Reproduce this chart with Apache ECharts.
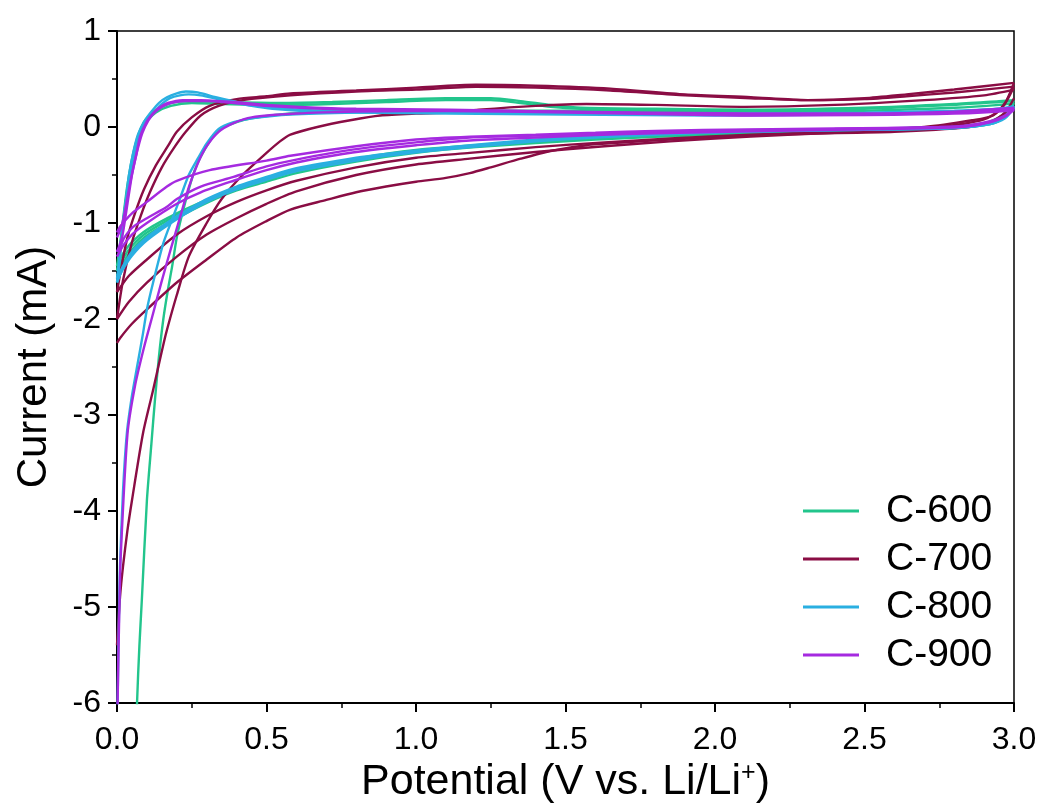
<!DOCTYPE html>
<html><head><meta charset="utf-8">
<script src="https://cdn.jsdelivr.net/npm/echarts@6/dist/echarts.min.js"></script>
<style>html,body{margin:0;padding:0;background:#fff}#chart{width:1045px;height:809px}</style>
</head><body><div id="chart"></div>
<script>
// ---- data (potential V, current mA) ----
const legendNames = ['C-600','C-700','C-800','C-900'];

const c600_anodic1 = [[0.06,-7],[0.067,-6],[0.075,-5.4],[0.083,-4.93],[0.1,-3.89],[0.115,-3.3],[0.127,-2.84],[0.14,-2.4],[0.155,-2.0],[0.17,-1.7],[0.184,-1.46],[0.2,-1.15],[0.217,-0.92],[0.24,-0.65],[0.26,-0.45],[0.28,-0.31],[0.31,-0.15],[0.34,-0.03],[0.4,0.05],[0.45,0.09],[0.58,0.14],[0.8,0.16],[1.1,0.17],[1.5,0.17],[2.0,0.16],[2.5,0.17],[2.8,0.2],[2.95,0.23],[3.0,0.25]];
const c600_anodic2 = [[0,-1.45],[0.015,-1.1],[0.035,-0.6],[0.06,-0.2],[0.09,0.05],[0.13,0.18],[0.18,0.25],[0.25,0.27],[0.35,0.26],[0.545,0.25],[0.72,0.26],[0.9,0.28],[1.1,0.3],[1.25,0.3],[1.35,0.27],[1.45,0.23],[1.55,0.2],[1.8,0.19],[2.12,0.18],[2.5,0.2],[2.8,0.24],[2.95,0.27],[3.0,0.28]];
const c600_anodic3 = [[0,-1.5],[0.015,-1.15],[0.035,-0.65],[0.06,-0.25],[0.09,0.02],[0.13,0.15],[0.18,0.22],[0.25,0.25],[0.35,0.24],[0.545,0.23],[0.72,0.24],[0.9,0.26],[1.1,0.28],[1.25,0.28],[1.35,0.25],[1.45,0.21],[1.55,0.19],[1.8,0.18],[2.12,0.17],[2.5,0.19],[2.8,0.23],[2.95,0.26],[3.0,0.27]];
const c600_cathodic1 = [[3.0,0.25],[2.97,0.1],[2.92,0.03],[2.8,-0.01],[2.5,-0.04],[2.0,-0.08],[1.6,-0.13],[1.2,-0.21],[1.0,-0.27],[0.8,-0.36],[0.6,-0.48],[0.5,-0.57],[0.4,-0.66],[0.3,-0.79],[0.2,-0.95],[0.1,-1.13],[0.05,-1.28],[0.02,-1.42],[0,-1.55]];
const c600_cathodic2 = [[3.0,0.28],[2.96,0.12],[2.9,0.04],[2.75,0.0],[2.4,-0.03],[2.0,-0.06],[1.6,-0.11],[1.2,-0.19],[1.0,-0.24],[0.8,-0.33],[0.6,-0.45],[0.5,-0.54],[0.4,-0.63],[0.3,-0.76],[0.2,-0.9],[0.1,-1.07],[0.05,-1.2],[0.02,-1.32],[0,-1.45]];
const c600_cathodic3 = [[3.0,0.27],[2.96,0.11],[2.9,0.03],[2.75,-0.01],[2.4,-0.04],[2.0,-0.07],[1.6,-0.12],[1.2,-0.2],[1.0,-0.25],[0.8,-0.34],[0.6,-0.46],[0.5,-0.55],[0.4,-0.645],[0.3,-0.77],[0.2,-0.92],[0.1,-1.1],[0.05,-1.24],[0.02,-1.37],[0,-1.5]];

const c700_anodic1 = [[0,-5.4],[0.01,-4.9],[0.02,-4.58],[0.035,-4.2],[0.05,-3.89],[0.087,-3.19],[0.12,-2.75],[0.138,-2.5],[0.16,-2.2],[0.177,-2.0],[0.2,-1.75],[0.24,-1.35],[0.3,-1.0],[0.35,-0.75],[0.42,-0.5],[0.5,-0.27],[0.545,-0.15],[0.58,-0.08],[0.67,0.0],[0.78,0.07],[0.88,0.12],[1.0,0.14],[1.11,0.15],[1.21,0.18],[1.4,0.22],[1.57,0.24],[1.8,0.23],[2.1,0.21],[2.4,0.23],[2.7,0.28],[2.9,0.33],[3.0,0.39]];
const c700_anodic2 = [[0,-1.72],[0.015,-1.45],[0.035,-1.15],[0.06,-0.9],[0.09,-0.65],[0.13,-0.4],[0.17,-0.2],[0.2,-0.05],[0.25,0.1],[0.31,0.22],[0.4,0.29],[0.5,0.32],[0.58,0.35],[0.8,0.38],[1.0,0.41],[1.2,0.44],[1.4,0.43],[1.65,0.4],[1.9,0.34],[2.12,0.31],[2.31,0.28],[2.5,0.3],[2.64,0.34],[2.8,0.39],[3.0,0.46]];
const c700_anodic3 = [[0,-2.0],[0.02,-1.6],[0.05,-1.2],[0.08,-0.92],[0.11,-0.68],[0.15,-0.42],[0.19,-0.22],[0.23,-0.05],[0.28,0.12],[0.34,0.22],[0.42,0.28],[0.58,0.33],[0.8,0.37],[1.0,0.39],[1.2,0.42],[1.4,0.41],[1.65,0.38],[1.9,0.33],[2.12,0.3],[2.31,0.28],[2.5,0.29],[2.64,0.32],[2.8,0.36],[3.0,0.42]];
const c700_cathodic1 = [[3.0,0.3],[2.97,0.15],[2.92,0.05],[2.85,0.0],[2.6,-0.05],[2.3,-0.07],[2.1,-0.09],[1.85,-0.13],[1.7,-0.16],[1.57,-0.19],[1.45,-0.25],[1.35,-0.33],[1.25,-0.42],[1.18,-0.48],[1.1,-0.53],[1.0,-0.57],[0.9,-0.62],[0.8,-0.68],[0.7,-0.76],[0.58,-0.86],[0.5,-0.98],[0.4,-1.15],[0.3,-1.38],[0.2,-1.62],[0.1,-1.9],[0.05,-2.05],[0.01,-2.2],[0,-2.25]];
const c700_cathodic2 = [[3.0,0.46],[2.97,0.25],[2.93,0.12],[2.86,0.07],[2.7,0.0],[2.4,-0.05],[2.12,-0.08],[1.85,-0.12],[1.63,-0.16],[1.4,-0.21],[1.18,-0.27],[1.0,-0.32],[0.8,-0.42],[0.6,-0.56],[0.5,-0.66],[0.4,-0.78],[0.3,-0.93],[0.2,-1.12],[0.1,-1.38],[0.04,-1.55],[0,-1.72]];
const c700_cathodic3 = [[3.0,0.42],[2.96,0.2],[2.9,0.08],[2.75,0.0],[2.4,-0.06],[2.12,-0.1],[1.85,-0.15],[1.63,-0.2],[1.4,-0.26],[1.18,-0.33],[1.0,-0.39],[0.8,-0.5],[0.6,-0.67],[0.5,-0.8],[0.4,-0.95],[0.3,-1.12],[0.2,-1.35],[0.1,-1.62],[0.04,-1.82],[0,-2.0]];

const c800_anodic1 = [[0,-7],[0.002,-6],[0.006,-5.2],[0.01,-4.58],[0.02,-3.8],[0.033,-3.19],[0.05,-2.8],[0.067,-2.5],[0.087,-2.15],[0.1,-1.9],[0.12,-1.63],[0.155,-1.21],[0.187,-0.94],[0.21,-0.75],[0.24,-0.5],[0.27,-0.33],[0.3,-0.17],[0.34,-0.02],[0.39,0.05],[0.45,0.09],[0.58,0.13],[0.8,0.15],[1.11,0.16],[1.5,0.15],[2.0,0.14],[2.5,0.15],[2.8,0.17],[2.95,0.19],[3.0,0.22]];
const c800_anodic2 = [[0,-1.58],[0.005,-1.45],[0.01,-1.31],[0.02,-1.0],[0.03,-0.75],[0.04,-0.5],[0.054,-0.27],[0.07,-0.08],[0.09,0.05],[0.11,0.14],[0.14,0.25],[0.167,0.31],[0.2,0.35],[0.23,0.37],[0.27,0.36],[0.33,0.31],[0.4,0.26],[0.45,0.23],[0.52,0.2],[0.61,0.18],[0.8,0.16],[1.11,0.15],[1.5,0.14],[2.0,0.13],[2.5,0.14],[2.8,0.16],[2.95,0.19],[3.0,0.21]];
const c800_anodic3 = [[0,-1.62],[0.005,-1.5],[0.012,-1.3],[0.022,-1.0],[0.033,-0.75],[0.045,-0.5],[0.06,-0.27],[0.077,-0.08],[0.097,0.05],[0.12,0.14],[0.15,0.24],[0.177,0.3],[0.21,0.33],[0.24,0.34],[0.28,0.33],[0.34,0.29],[0.4,0.25],[0.45,0.22],[0.52,0.19],[0.61,0.17],[0.8,0.15],[1.11,0.14],[1.5,0.13],[2.0,0.12],[2.5,0.13],[2.8,0.15],[2.95,0.18],[3.0,0.2]];
const c800_cathodic1 = [[3.0,0.22],[2.97,0.1],[2.92,0.03],[2.8,-0.01],[2.5,-0.03],[2.1,-0.05],[1.8,-0.08],[1.6,-0.11],[1.4,-0.15],[1.11,-0.23],[0.9,-0.3],[0.8,-0.35],[0.6,-0.46],[0.5,-0.55],[0.4,-0.65],[0.3,-0.78],[0.2,-0.96],[0.1,-1.18],[0.05,-1.34],[0.02,-1.48],[0,-1.6]];
const c800_cathodic2 = [[3.0,0.21],[2.97,0.1],[2.92,0.04],[2.8,0.0],[2.5,-0.02],[2.1,-0.04],[1.8,-0.06],[1.6,-0.09],[1.4,-0.13],[1.11,-0.21],[0.9,-0.28],[0.8,-0.32],[0.6,-0.43],[0.5,-0.52],[0.4,-0.62],[0.3,-0.75],[0.2,-0.93],[0.167,-1.0],[0.1,-1.15],[0.05,-1.3],[0.02,-1.45],[0,-1.58]];
const c800_cathodic3 = [[3.0,0.2],[2.97,0.09],[2.92,0.03],[2.8,-0.01],[2.5,-0.03],[2.1,-0.045],[1.8,-0.07],[1.6,-0.1],[1.4,-0.14],[1.11,-0.22],[0.9,-0.29],[0.8,-0.33],[0.6,-0.44],[0.5,-0.53],[0.4,-0.63],[0.3,-0.76],[0.2,-0.94],[0.1,-1.16],[0.05,-1.32],[0.02,-1.47],[0,-1.62]];

const c900_anodic1 = [[0,-7],[0.002,-6],[0.008,-5.0],[0.012,-4.5],[0.035,-3.2],[0.06,-2.7],[0.09,-2.3],[0.12,-1.95],[0.15,-1.6],[0.18,-1.27],[0.21,-0.95],[0.24,-0.63],[0.27,-0.38],[0.3,-0.2],[0.34,-0.05],[0.39,0.04],[0.45,0.1],[0.6,0.14],[0.8,0.16],[1.11,0.17],[1.5,0.16],[2.12,0.14],[2.5,0.14],[2.8,0.16],[3.0,0.2]];
const c900_anodic2 = [[0,-1.3],[0.01,-1.22],[0.02,-1.1],[0.035,-0.8],[0.05,-0.5],[0.065,-0.28],[0.077,-0.1],[0.1,0.06],[0.12,0.14],[0.14,0.2],[0.17,0.25],[0.22,0.28],[0.28,0.28],[0.39,0.26],[0.5,0.23],[0.61,0.21],[0.8,0.19],[1.11,0.18],[1.5,0.16],[1.8,0.14],[2.12,0.125],[2.5,0.13],[2.8,0.15],[2.98,0.18],[3.0,0.2]];
const c900_anodic3 = [[0,-1.15],[0.01,-1.08],[0.022,-0.95],[0.038,-0.68],[0.055,-0.42],[0.07,-0.22],[0.085,-0.06],[0.105,0.07],[0.125,0.15],[0.15,0.21],[0.18,0.25],[0.23,0.27],[0.3,0.27],[0.39,0.25],[0.5,0.22],[0.61,0.2],[0.8,0.18],[1.11,0.17],[1.5,0.15],[1.8,0.135],[2.12,0.12],[2.5,0.125],[2.8,0.14],[2.98,0.17],[3.0,0.19]];
const c900_cathodic1 = [[3.0,0.2],[2.97,0.11],[2.92,0.05],[2.85,0.01],[2.75,-0.01],[2.4,-0.03],[2.12,-0.045],[1.8,-0.065],[1.6,-0.085],[1.4,-0.11],[1.18,-0.14],[1.0,-0.19],[0.85,-0.24],[0.72,-0.3],[0.6,-0.37],[0.5,-0.45],[0.39,-0.56],[0.28,-0.68],[0.2,-0.8],[0.1,-1.0],[0.05,-1.12],[0.02,-1.24],[0,-1.35]];
const c900_cathodic2 = [[3.0,0.19],[2.97,0.12],[2.92,0.06],[2.85,0.02],[2.75,0.0],[2.4,-0.02],[2.12,-0.03],[1.8,-0.05],[1.6,-0.07],[1.4,-0.09],[1.18,-0.11],[1.0,-0.16],[0.85,-0.21],[0.72,-0.27],[0.6,-0.34],[0.5,-0.41],[0.39,-0.52],[0.28,-0.62],[0.2,-0.75],[0.167,-0.83],[0.1,-0.95],[0.054,-1.04],[0.025,-1.15],[0.01,-1.25],[0,-1.3]];
const c900_cathodic3 = [[3.0,0.18],[2.97,0.11],[2.92,0.05],[2.85,0.01],[2.75,-0.005],[2.4,-0.015],[2.12,-0.025],[1.8,-0.04],[1.6,-0.06],[1.4,-0.08],[1.18,-0.1],[1.0,-0.13],[0.8,-0.2],[0.58,-0.3],[0.5,-0.35],[0.31,-0.45],[0.2,-0.56],[0.167,-0.62],[0.1,-0.78],[0.05,-0.9],[0.01,-1.04],[0,-1.1]];

// ---- chart ----
const samples = [
  { name: 'C-600', color: '#22c58c', branches: [c600_cathodic1, c600_cathodic2, c600_cathodic3, c600_anodic1, c600_anodic2, c600_anodic3] },
  { name: 'C-700', color: '#8a0d44', branches: [c700_cathodic1, c700_cathodic2, c700_cathodic3, c700_anodic1, c700_anodic2, c700_anodic3] },
  { name: 'C-800', color: '#2aafe1', branches: [c800_cathodic1, c800_cathodic2, c800_cathodic3, c800_anodic1, c800_anodic2, c800_anodic3] },
  { name: 'C-900', color: '#a52ae0', branches: [c900_cathodic1, c900_cathodic2, c900_cathodic3, c900_anodic1, c900_anodic2, c900_anodic3] }
];

const series = [];
samples.forEach(s => {
  s.branches.forEach(d => {
    series.push({
      type: 'line', name: s.name, data: d,
      symbol: 'none', showSymbol: false, smooth: 0.25, clip: true,
      lineStyle: { width: 2.4, color: s.color },
      itemStyle: { color: s.color },
      emphasis: { disabled: true }, silent: true
    });
  });
});

const FONT = "'Liberation Sans', Arial, sans-serif";
const chart = echarts.init(document.getElementById('chart'), null, { renderer: 'canvas' });
chart.setOption({
  animation: false,
  backgroundColor: '#fff',
  textStyle: { fontFamily: FONT },
  grid: { left: 117, right: 31, top: 31, bottom: 106, show: true, borderColor: '#000', borderWidth: 1.5, outerBoundsMode: 'none' },
  legend: {
    data: legendNames, orient: 'vertical', left: 798, top: 486,
    icon: 'rect', itemWidth: 56, itemHeight: 3, itemGap: 8,
    textStyle: { fontSize: 39, color: '#000', fontFamily: FONT, lineHeight: 40, padding: [0, 0, 0, 22] }
  },
  xAxis: {
    type: 'value', min: 0, max: 3, interval: 0.5,
    name: 'Potential (V vs. Li/Li{sup|+})', nameLocation: 'middle', nameGap: 49,
    nameTextStyle: { fontSize: 43, color: '#000', fontFamily: FONT,
      rich: { sup: { fontSize: 25, verticalAlign: 'top', color: '#000', fontFamily: FONT, padding: [0, 0, 18, 0] } } },
    axisLine: { show: true, onZero: false, lineStyle: { color: '#000', width: 2 } },
    axisTick: { show: true, inside: false, length: 9, lineStyle: { color: '#000', width: 2 } },
    minorTick: { show: true, splitNumber: 2, length: 5, lineStyle: { color: '#000', width: 1.5 } },
    splitLine: { show: false },
    axisLabel: { fontSize: 32, color: '#000', margin: 21, fontFamily: FONT, formatter: v => v.toFixed(1) }
  },
  yAxis: {
    type: 'value', min: -6, max: 1, interval: 1,
    name: 'Current (mA)', nameLocation: 'middle', nameGap: 62, nameRotate: 90,
    nameTextStyle: { fontSize: 42, color: '#000', fontFamily: FONT },
    axisLine: { show: true, onZero: false, lineStyle: { color: '#000', width: 2 } },
    axisTick: { show: true, inside: false, length: 9, lineStyle: { color: '#000', width: 2 } },
    minorTick: { show: true, splitNumber: 2, length: 5, lineStyle: { color: '#000', width: 1.5 } },
    splitLine: { show: false },
    axisLabel: { fontSize: 32, color: '#000', margin: 16, fontFamily: FONT }
  },
  series: series
});
</script></body></html>
